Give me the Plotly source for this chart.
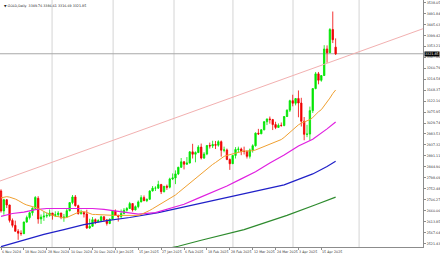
import plotly.graph_objects as go

# ---- data (GOLD daily, 6 Nov 2024 .. 23 Apr 2025), bar index = trading day ----
opens = [2743,2659,2706,2684,2619,2598,2573,2565,2563,2612,2631,2651,2670,2712,2625,2633,2637,2640,
         2650,2640,2643,2650,2631,2633,2660,2694,2718,2681,2648,2652,2646,2587,2594,2622,2613,2618,2634,2621,2606,
         2624,2658,2640,2635,2648,2662,2669,2690,2663,2677,2697,2715,2702,2708,2743,2755,2755,2770,2740,2763,2759,2794,
         2798,2815,2843,2866,2856,2861,2908,2898,2905,2928,2882,2899,2935,2933,2939,2936,2951,2915,2916,2876,
         2858,2893,2918,2920,2910,2910,2889,2916,2934,2987,2984,3001,3035,3047,3044,3023,3011,3020,3019,3057,3084,
         3124,3113,3133,3114,3037,2982,2983,3082,3175,3237,3210,3230,3342,3326,3424,3349.76]
highs = [2750,2710,2709,2685,2627,2618,2582,2577,2614,2639,2656,2674,2721,2721,2644,2656,2652,2665,
         2650,2657,2658,2651,2646,2667,2695,2726,2726,2685,2664,2654,2664,2626,2633,2627,2624,2639,2637,2625,2627,
         2660,2665,2643,2665,2671,2675,2697,2692,2682,2703,2725,2724,2711,2746,2764,2763,2786,2773,2764,2770,2799,2817,
         2830,2845,2882,2869,2886,2911,2942,2910,2936,2943,2907,2936,2947,2955,2954,2957,2956,2930,2922,2880,
         2894,2928,2930,2926,2930,2915,2922,2940,2990,3005,3004,3038,3048,3057,3047,3035,3028,3032,3059,3087,3128,
         3149,3135,3167,3136,3055,3022,3099,3176,3245,3245,3230,3358,3357,3430,3500,3386.61]
lows = [2652,2643,2671,2610,2589,2572,2537,2554,2561,2609,2623,2639,2665,2605,2604,2617,2630,2634,
        2622,2633,2633,2624,2613,2630,2657,2687,2677,2643,2643,2631,2583,2583,2592,2603,2611,2616,2614,2597,2603,
        2624,2638,2614,2629,2644,2656,2667,2656,2661,2670,2695,2700,2696,2706,2741,2743,2752,2730,2737,2748,2754,2789,
        2772,2810,2840,2834,2853,2859,2880,2864,2903,2876,2878,2894,2922,2924,2920,2930,2888,2906,2873,2832,
        2857,2880,2905,2894,2897,2880,2880,2905,2930,2979,2983,2999,3021,3027,3000,3004,3010,3014,3016,3055,3076,
        3100,3104,3054,3015,2957,2970,2957,3072,3172,3193,3204,3228,3284,3326,3367,3316.69]
closes = [2659,2706,2684,2619,2598,2573,2565,2563,2612,2631,2651,2670,2716,2625,2633,2637,2640,2650,
          2640,2643,2650,2631,2633,2660,2694,2718,2681,2648,2652,2646,2587,2594,2622,2613,2618,2634,2621,2606,2624,
          2658,2640,2635,2648,2662,2669,2690,2663,2677,2697,2715,2702,2708,2743,2755,2755,2770,2740,2763,2759,2794,2798,
          2815,2843,2866,2856,2861,2908,2898,2905,2928,2882,2899,2935,2933,2939,2936,2951,2915,2916,2876,2858,
          2893,2918,2920,2910,2910,2889,2916,2934,2987,2984,3001,3035,3047,3044,3023,3011,3020,3019,3057,3084,3124,
          3113,3133,3114,3037,2982,2983,3082,3175,3237,3210,3230,3342,3326,3424,3381,3321.85]

# moving averages read per bar / sampled bars
ma20 = [2714,2717,2719,2717,2714,2709,2703,2695,2689,2684,2680,2677,2675,2670,2663,2655,2650,2646,2641,2636,
        2635,2632,2629,2631,2636,2643,2649,2653,2655,2656,2653,2649,2644,2644,2643,2643,2642,2640,2639,2640,
        2639,2639,2640,2640,2639,2637,2637,2638,2640,2644,2649,2655,2661,2668,2675,2682,2688,2696,2702,2709,
        2717,2726,2736,2746,2755,2764,2776,2787,2798,2808,2817,2827,2837,2845,2855,2863,2873,2881,2889,2893,
        2896,2900,2904,2906,2909,2912,2911,2911,2913,2916,2921,2926,2931,2937,2942,2946,2949,2955,2960,2969,
        2980,2992,3001,3012,3022,3029,3033,3037,3044,3053,3066,3077,3086,3101,3115,3135,3154,3169]
ma50_idx = [0,4,8,12,16,20,24,28,32,36,40,44,48,54,59,64,69,74,79,84,89,94,99,104,109,114,117]
ma50 = [2636,2648,2654,2664,2669,2669,2669,2671,2669,2665,2658,2650,2645,2652,2670,2687,2713,2739,2764,2794,
        2824,2861,2895,2933,2961,3005,3034]
ma100_idx = [0,7,15,22,29,37,45,55,60,65,70,80,90,99,104,109,114,117]
ma100 = [2508,2532,2560,2580,2601,2618,2631,2652,2665,2679,2693,2720,2744,2769,2792,2815,2846,2868]
ma200_idx = [55,62,70,77,85,90,100,110,117]
ma200 = [2492,2510,2535,2555,2580,2600,2640,2685,2717]

trend_idx = [-0.35, 147.55]
trend_px = [2785, 3427.5]

bid = 3321.85
title = "▼ GOLD,Daily  3349.76 3386.61 3316.69 3321.85"

date_idx = [0,8,16,24,32,40,48,56,64,72,80,88,96,104,112]
date_lbl = ["6 Nov 2024","18 Nov 2024","28 Nov 2024","10 Dec 2024","20 Dec 2024","3 Jan 2025",
            "15 Jan 2025","27 Jan 2025","6 Feb 2025","18 Feb 2025","28 Feb 2025","12 Mar 2025",
            "24 Mar 2025","3 Apr 2025","15 Apr 2025"]
price_ticks = [3538.05,3491.84,3445.63,3399.42,3353.21,3307.00,3260.79,3214.58,3168.37,3122.16,3075.95,
               3029.74,2983.53,2937.32,2891.11,2844.90,2798.69,2752.48,2706.27,2660.06,2613.85,2567.64,2521.43]

grid_idx = [17.85, 39.2, 60.5, 81.1, 102.1, 125.2]

# ---- figure ----
FONT = "DejaVu Sans"
FS = 3.3
fig = go.Figure()

shapes = []
for g in grid_idx:
    shapes.append(dict(type="line", xref="x", yref="paper", x0=g, x1=g, y0=0, y1=1,
                       line=dict(color="#d4d4d4", width=1), layer="below"))
shapes.append(dict(type="line", xref="paper", yref="y", x0=0, x1=1, y0=bid, y1=bid,
                   line=dict(color="#a8a8a8", width=1), layer="below"))

fig.add_trace(go.Scatter(x=trend_idx, y=trend_px, mode="lines",
                         line=dict(color="#f2b0b0", width=1), hoverinfo="skip"))
fig.add_trace(go.Scatter(x=ma200_idx, y=ma200, mode="lines",
                         line=dict(color="#2e8b2e", width=1.2), hoverinfo="skip"))
fig.add_trace(go.Scatter(x=ma100_idx, y=ma100, mode="lines",
                         line=dict(color="#2020c8", width=1.2), hoverinfo="skip"))
fig.add_trace(go.Scatter(x=ma50_idx, y=ma50, mode="lines",
                         line=dict(color="#e020e0", width=1.2), hoverinfo="skip"))
fig.add_trace(go.Scatter(x=list(range(len(ma20))), y=ma20, mode="lines",
                         line=dict(color="#f0a030", width=1), hoverinfo="skip"))

fig.add_trace(go.Candlestick(
    x=list(range(len(opens))), open=opens, high=highs, low=lows, close=closes,
    increasing=dict(line=dict(color="#00e600", width=0.8), fillcolor="#00e600"),
    decreasing=dict(line=dict(color="#f00000", width=0.8), fillcolor="#f00000"),
    whiskerwidth=0, hoverinfo="skip"))

annotations = []
for i, t in zip(date_idx, date_lbl):
    annotations.append(dict(x=i, xref="x", y=0, yref="paper", yanchor="top", xanchor="left",
                            yshift=-1, xshift=-1, text=t, showarrow=False,
                            font=dict(family=FONT, size=FS, color="#333333")))
annotations.append(dict(x=0, xref="paper", y=1, yref="paper", xanchor="left", yanchor="top",
                        xshift=2, yshift=-2, text=title, showarrow=False,
                        font=dict(family=FONT, size=FS, color="#222222")))
annotations.append(dict(x=1, xref="paper", y=bid, yref="y", xanchor="left", yanchor="middle",
                        xshift=1, text=f"{bid:.2f}", showarrow=False, bgcolor="black",
                        borderpad=0, font=dict(family=FONT, size=FS, color="white")))

fig.update_layout(
    width=440, height=254, margin=dict(l=0, r=17, t=0, b=7),
    paper_bgcolor="white", plot_bgcolor="white", showlegend=False,
    shapes=shapes, annotations=annotations,
    xaxis=dict(range=[-0.35, 147.55], showgrid=False, zeroline=False, showline=True,
               linecolor="#8c8c8c", linewidth=1, ticks="outside", ticklen=2, tickcolor="#8c8c8c",
               tickvals=date_idx, showticklabels=False, rangeslider=dict(visible=False),
               fixedrange=True),
    yaxis=dict(range=[2506.7, 3548.6], side="right", showgrid=False, zeroline=False,
               showline=True, linecolor="#8c8c8c", linewidth=1, ticks="outside", ticklen=2,
               tickcolor="#8c8c8c", tickvals=price_ticks, ticktext=[f"{v:.2f}" for v in price_ticks],
               tickfont=dict(family=FONT, size=FS, color="#333333"), fixedrange=True),
)

fig.write_html("out.html")
